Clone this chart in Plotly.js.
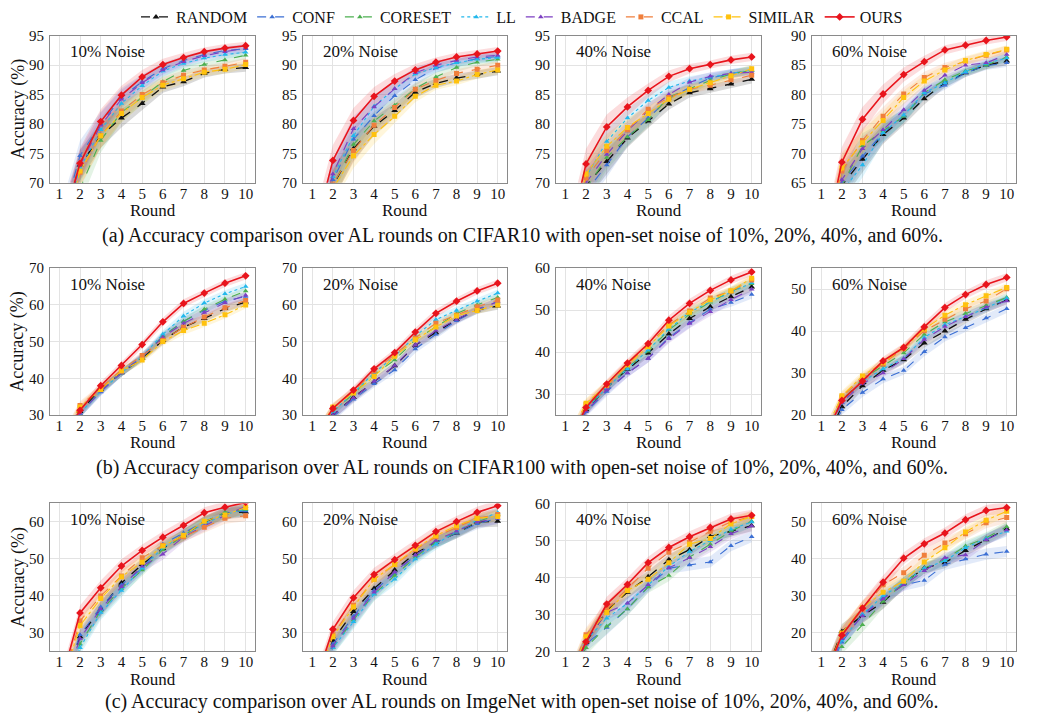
<!DOCTYPE html>
<html><head><meta charset="utf-8">
<script src="https://cdn.plot.ly/plotly-3.0.1.min.js"></script>
<style>html,body{margin:0;padding:0;background:#fff}#chart{width:1044px;height:714px}</style>
</head><body><div id="chart"></div>
<script>
const ROUNDS = [1,2,3,4,5,6,7,8,9,10];
const METHODS = ['RANDOM','CONF','CORESET','LL','BADGE','CCAL','SIMILAR','OURS'];

// each panel: one array per method, in METHODS order
const CIFAR10_N10 = [
  [60, 73.0, 78.0, 81.0, 83.5, 86.3, 87.2, 88.6, 89.3, 89.6],
  [62, 74.6, 80.0, 84.5, 87.2, 89.4, 90.8, 91.8, 92.5, 92.8],
  [57, 69.0, 77.2, 82.0, 84.5, 87.2, 89.1, 90.1, 90.9, 91.7],
  [60, 72.5, 79.0, 83.5, 86.5, 89.0, 90.3, 91.2, 91.8, 92.2],
  [61, 73.0, 79.8, 84.2, 87.0, 89.2, 90.6, 91.6, 92.3, 92.9],
  [59, 71.8, 78.0, 82.2, 85.0, 87.0, 88.3, 89.2, 89.8, 90.5],
  [59, 72.0, 78.0, 81.8, 84.5, 86.6, 87.7, 88.8, 89.3, 90.1],
  [61, 73.3, 80.4, 84.9, 88.0, 90.1, 91.3, 92.3, 92.9, 93.3]
];
const CIFAR10_N20 = [
  [56, 69.5, 75.8, 79.6, 82.3, 85.4, 86.9, 87.8, 88.4, 89.0],
  [57, 70.5, 77.4, 81.4, 84.8, 87.5, 89.5, 90.4, 91.1, 91.5],
  [56, 69.5, 76.5, 80.5, 83.2, 86.0, 88.0, 89.6, 90.5, 91.0],
  [58, 71.0, 78.0, 83.0, 86.0, 88.5, 89.6, 90.4, 91.0, 91.3],
  [58, 71.5, 79.2, 82.9, 86.0, 88.7, 90.0, 90.8, 91.4, 91.7],
  [56, 69.8, 75.5, 79.8, 82.8, 85.9, 87.4, 88.6, 89.3, 90.0],
  [55, 69.0, 74.6, 78.2, 81.3, 84.7, 86.6, 87.3, 88.4, 89.2],
  [60, 73.8, 80.6, 84.7, 87.3, 89.2, 90.5, 91.4, 91.9, 92.4]
];
const CIFAR10_N40 = [
  [54, 69.5, 73.6, 77.6, 80.5, 83.4, 85.3, 86.0, 86.8, 87.6],
  [53, 68.5, 73.0, 77.8, 81.0, 84.3, 86.2, 87.8, 88.6, 89.1],
  [54, 69.0, 74.3, 77.8, 80.7, 84.6, 86.0, 87.4, 88.5, 89.1],
  [56, 71.0, 77.0, 81.0, 84.0, 86.2, 87.3, 88.0, 88.6, 89.2],
  [55, 70.0, 74.8, 78.8, 82.3, 85.0, 87.1, 88.1, 88.6, 88.8],
  [55, 70.8, 75.5, 79.0, 82.5, 84.5, 85.9, 86.6, 87.5, 88.3],
  [56, 71.5, 76.2, 79.4, 81.8, 84.2, 85.9, 87.0, 88.2, 89.4],
  [58, 73.2, 79.5, 82.9, 85.7, 88.1, 89.4, 90.1, 90.9, 91.4]
];
const CIFAR10_N60 = [
  [49, 64.5, 69.0, 73.2, 76.0, 79.3, 82.0, 83.7, 85.0, 85.7],
  [49, 65.0, 69.5, 73.5, 76.3, 80.1, 81.6, 83.7, 84.9, 85.4],
  [49, 64.5, 71.3, 73.8, 76.3, 80.3, 82.5, 84.0, 85.0, 86.4],
  [48, 63.5, 68.0, 73.5, 76.5, 80.3, 82.0, 83.9, 85.3, 86.2],
  [50, 65.5, 70.8, 74.0, 77.4, 80.7, 83.3, 85.0, 85.4, 86.8],
  [52, 67.0, 72.2, 76.3, 80.1, 82.9, 84.6, 85.7, 86.7, 87.6],
  [52, 67.5, 71.8, 75.6, 79.5, 82.3, 84.2, 85.8, 86.8, 87.7],
  [52, 68.5, 75.8, 80.1, 83.4, 85.6, 87.6, 88.4, 89.2, 89.8]
];
const CIFAR100_N10 = [
  [21, 31.0, 37.0, 41.5, 45.5, 50.3, 54.0, 56.3, 59.0, 60.8],
  [21, 30.5, 36.3, 41.5, 46.0, 51.5, 55.5, 58.5, 61.0, 62.3],
  [21, 30.5, 36.8, 41.5, 45.5, 51.5, 55.5, 58.8, 61.5, 63.8],
  [21, 30.5, 36.5, 41.5, 46.0, 52.0, 57.0, 60.5, 63.0, 65.0],
  [21, 30.5, 36.5, 41.5, 45.8, 51.2, 55.0, 57.9, 60.6, 62.6],
  [22, 32.6, 37.3, 42.3, 46.2, 50.4, 53.9, 56.7, 59.2, 61.2],
  [22, 32.2, 37.0, 42.0, 45.0, 50.0, 53.0, 55.0, 57.3, 60.0],
  [22, 31.3, 38.0, 43.5, 49.2, 55.4, 60.4, 63.2, 65.9, 67.9]
];
const CIFAR100_N20 = [
  [21, 30.0, 34.8, 39.0, 43.4, 49.0, 52.4, 56.0, 58.6, 59.7],
  [21, 29.5, 34.3, 38.5, 42.3, 48.0, 52.0, 55.7, 58.5, 61.0],
  [22, 31.0, 35.8, 41.0, 45.0, 50.5, 54.0, 57.6, 60.0, 62.0],
  [22, 31.0, 36.0, 41.5, 46.0, 51.5, 56.0, 58.5, 61.0, 63.2],
  [21, 30.0, 34.7, 39.2, 43.5, 49.1, 53.0, 56.0, 58.9, 60.8],
  [23, 32.0, 36.5, 42.0, 46.5, 51.0, 55.0, 57.2, 59.5, 61.3],
  [23, 32.2, 36.0, 40.5, 46.0, 50.5, 54.0, 57.0, 58.5, 60.0],
  [23, 31.8, 36.8, 42.6, 47.0, 52.6, 57.7, 61.0, 63.8, 65.9]
];
const CIFAR100_N40 = [
  [17, 26.3, 31.5, 35.9, 39.8, 44.3, 48.0, 50.8, 53.2, 55.5],
  [16, 25.8, 30.6, 35.0, 38.5, 43.5, 47.0, 50.2, 51.8, 53.7],
  [17, 26.5, 31.5, 36.3, 40.2, 45.3, 49.0, 51.9, 54.5, 56.3],
  [17, 26.5, 31.5, 36.0, 40.5, 45.5, 49.5, 52.0, 54.2, 56.5],
  [16, 26.0, 31.0, 35.0, 38.5, 43.2, 46.8, 49.6, 52.5, 55.0],
  [18, 27.5, 32.0, 37.0, 41.8, 46.5, 49.8, 52.9, 54.5, 57.2],
  [18, 27.8, 32.2, 37.0, 41.3, 46.2, 49.5, 52.4, 54.6, 57.6],
  [17, 26.8, 32.4, 37.4, 42.0, 47.6, 51.6, 54.7, 57.2, 59.1]
];
const CIFAR100_N60 = [
  [12, 22.0, 27.0, 30.7, 33.2, 37.2, 40.0, 42.8, 45.3, 47.4],
  [11, 21.3, 25.4, 28.6, 30.6, 35.1, 38.6, 40.8, 43.1, 45.3],
  [13, 23.5, 28.5, 31.8, 34.8, 39.2, 42.2, 44.2, 46.1, 48.0],
  [13, 23.0, 28.0, 31.0, 33.5, 38.5, 41.5, 43.5, 45.5, 47.8],
  [13, 23.0, 27.5, 30.0, 33.4, 38.0, 41.1, 43.4, 45.7, 47.2],
  [14, 24.3, 28.8, 32.2, 35.8, 40.1, 42.8, 45.3, 47.2, 50.1],
  [14, 24.6, 29.3, 32.5, 36.0, 40.5, 43.8, 46.3, 48.4, 50.4],
  [13, 23.5, 28.1, 32.9, 36.1, 41.0, 45.6, 48.7, 51.1, 52.8]
];
const IMAGENET_N10 = [
  [13, 29.0, 36.5, 43.5, 48.5, 52.8, 56.5, 60.0, 62.3, 62.7],
  [13, 29.5, 37.0, 43.0, 47.5, 54.0, 57.0, 60.0, 62.5, 63.0],
  [12, 27.0, 36.0, 42.0, 47.0, 52.5, 56.3, 60.0, 62.6, 63.3],
  [11, 26.0, 35.5, 41.5, 47.5, 53.0, 56.5, 59.5, 62.0, 63.5],
  [12, 28.5, 36.5, 42.5, 48.0, 51.3, 56.0, 59.0, 61.8, 64.2],
  [14, 33.2, 40.0, 45.4, 50.3, 53.7, 56.0, 58.6, 61.0, 61.7],
  [14, 32.0, 39.3, 45.2, 49.1, 53.5, 56.4, 60.2, 61.9, 63.9],
  [15, 35.4, 42.2, 48.1, 52.3, 55.9, 59.1, 62.5, 64.0, 65.3]
];
const IMAGENET_N20 = [
  [13, 28.0, 35.8, 42.0, 47.0, 51.5, 54.5, 57.0, 60.0, 60.2],
  [13, 27.0, 34.5, 41.5, 46.0, 51.0, 54.5, 57.0, 59.5, 61.0],
  [12, 26.0, 33.5, 40.5, 45.5, 50.5, 54.5, 57.3, 60.0, 62.0],
  [12, 26.0, 33.0, 40.5, 44.5, 50.0, 54.0, 57.5, 60.5, 62.5],
  [12, 26.5, 34.0, 41.0, 46.5, 51.0, 55.0, 57.5, 60.0, 61.0],
  [14, 29.5, 37.5, 44.5, 48.5, 52.5, 56.0, 58.5, 61.0, 62.0],
  [14, 29.0, 37.0, 44.5, 48.5, 52.8, 56.3, 59.0, 61.0, 61.5],
  [14, 31.0, 39.5, 45.8, 49.8, 53.7, 57.4, 60.1, 62.6, 64.4]
];
const IMAGENET_N40 = [
  [10, 22.5, 31.0, 36.0, 40.2, 44.8, 47.5, 51.1, 52.5, 54.0],
  [10, 22.0, 26.5, 31.5, 37.5, 42.5, 43.4, 44.2, 48.6, 51.0],
  [10, 21.0, 26.8, 31.5, 37.4, 40.5, 45.5, 49.0, 52.5, 55.2],
  [10, 23.0, 29.0, 33.0, 38.0, 43.0, 47.0, 50.0, 53.0, 55.0],
  [10, 23.0, 30.5, 33.0, 38.0, 42.6, 45.3, 48.3, 51.8, 53.9],
  [10, 24.5, 31.5, 37.0, 42.5, 46.8, 49.5, 52.5, 55.0, 56.5],
  [10, 24.0, 30.5, 36.5, 39.5, 44.0, 49.0, 50.5, 54.5, 56.5],
  [10, 22.6, 32.8, 38.1, 44.0, 48.1, 51.0, 53.5, 55.8, 56.8]
];
const IMAGENET_N60 = [
  [6, 20.4, 24.7, 28.3, 33.5, 37.5, 39.0, 42.3, 45.2, 48.2],
  [5, 17.5, 25.0, 29.5, 33.0, 34.2, 38.5, 40.0, 41.3, 42.0],
  [4, 16.3, 22.2, 28.5, 33.5, 37.5, 39.8, 43.5, 45.7, 48.7],
  [5, 18.0, 25.0, 30.0, 33.5, 37.5, 39.5, 43.0, 45.5, 47.5],
  [5, 18.4, 24.6, 29.2, 33.0, 36.8, 40.3, 41.1, 45.2, 47.8],
  [6, 19.5, 26.5, 33.0, 36.3, 41.0, 44.3, 46.8, 49.8, 51.2],
  [6, 20.0, 26.8, 31.0, 34.0, 39.2, 43.0, 47.3, 50.5, 52.9],
  [6, 19.4, 26.7, 33.7, 40.2, 44.1, 47.0, 50.6, 53.1, 53.9]
];

// half-width of the shaded spread, per round
const BAND_CIFAR10  = [3.0, 2.6, 2.1, 1.6, 1.2, 1.0, 0.8, 0.7, 0.7, 0.7];
const BAND_CIFAR100 = [1.5, 1.2, 1.1, 1.0, 1.0, 1.1, 1.1, 1.0, 1.0, 1.0];
const BAND_IMAGENET = [2.5, 2.0, 2.0, 1.8, 1.6, 1.5, 1.5, 1.5, 1.5, 1.5];

const NOISE_LABELS = ['10% Noise','20% Noise','40% Noise','60% Noise'];
const Y_RANGES = [
  [[70,95],[70,95],[70,95],[65,90]],
  [[30,70],[30,70],[25,60],[20,55]],
  [[25,65],[25,65],[20,60],[15,55]]
];
const Y_DTICK = [5, 10, 10];
const X_TITLE = 'Round';
const Y_TITLE = 'Accuracy (%)';
const CAPTIONS = [
  '(a) Accuracy comparison over AL rounds on CIFAR10 with open-set noise of 10%, 20%, 40%, and 60%.',
  '(b) Accuracy comparison over AL rounds on CIFAR100 with open-set noise of 10%, 20%, 40%, and 60%.',
  '(c) Accuracy comparison over AL rounds on ImgeNet with open-set noise of 10%, 20%, 40%, and 60%.'
];

const PANELS = [
  [CIFAR10_N10, CIFAR10_N20, CIFAR10_N40, CIFAR10_N60],
  [CIFAR100_N10, CIFAR100_N20, CIFAR100_N40, CIFAR100_N60],
  [IMAGENET_N10, IMAGENET_N20, IMAGENET_N40, IMAGENET_N60]
];
const BANDS = [BAND_CIFAR10, BAND_CIFAR100, BAND_IMAGENET];

// ---- styles / layout ----
const STYLE = {
  RANDOM:  {color:'#111111', rgb:'0,0,0',      dash:'dash',    symbol:'triangle-up', size:6, width:1.3},
  CONF:    {color:'#3b6fd4', rgb:'59,111,212', dash:'dash',    symbol:'triangle-up', size:5, width:1.1},
  CORESET: {color:'#4caf50', rgb:'76,175,80',  dash:'dash',    symbol:'triangle-up', size:5, width:1.1},
  LL:      {color:'#22b8ec', rgb:'34,184,236', dash:'dot',     symbol:'triangle-up', size:5, width:1.1},
  BADGE:   {color:'#7d3fc2', rgb:'125,63,194', dash:'dash',    symbol:'triangle-up', size:5, width:1.1},
  CCAL:    {color:'#f07f3c', rgb:'240,127,60', dash:'dash',    symbol:'square',      size:5, width:1.1},
  SIMILAR: {color:'#ffc20e', rgb:'255,194,14', dash:'dashdot', symbol:'square',      size:5, width:1.1},
  OURS:    {color:'#e8141c', rgb:'232,20,28',  dash:'solid',   symbol:'diamond',     size:6, width:1.6}
};
const W = 1044, H = 714;
const COL_PX = [[50,255],[303,507],[556,761],[812,1016]];
const ROW_PX = [[31,179],[265,413],[502,651]];
const CAPTION_Y = [232, 466, 701];
const SERIF = 'Liberation Serif, Times New Roman, Times, serif';

const traces = [];
const layout = {
  width: W, height: H,
  margin: {l:0, r:0, t:0, b:0},
  paper_bgcolor: '#fff', plot_bgcolor: '#fff',
  hovermode: false,
  font: {family: SERIF, color: '#111', size: 15},
  showlegend: true,
  legend: {orientation:'h', x:0.5, xanchor:'center', y: 1 - 12/H, yanchor:'middle',
           font:{family:SERIF, size:16, color:'#111'}, bgcolor:'rgba(0,0,0,0)',
           itemwidth:30, tracegroupgap:0},
  annotations: []
};

let idx = 0;
for (let r = 0; r < 3; r++) {
  for (let c = 0; c < 4; c++) {
    idx++;
    const xa = idx === 1 ? 'x' : 'x' + idx;
    const ya = idx === 1 ? 'y' : 'y' + idx;
    const xk = idx === 1 ? 'xaxis' : 'xaxis' + idx;
    const yk = idx === 1 ? 'yaxis' : 'yaxis' + idx;
    const data = PANELS[r][c];
    const band = BANDS[r];
    METHODS.forEach((m, k) => {
      const s = STYLE[m];
      const up = data[k].map((v, i) => v + band[i]);
      const lo = data[k].map((v, i) => v - band[i]);
      traces.push({
        x: ROUNDS.concat(ROUNDS.slice().reverse()),
        y: up.concat(lo.slice().reverse()),
        xaxis: xa, yaxis: ya, type: 'scatter', mode: 'lines',
        fill: 'toself', fillcolor: 'rgba(' + s.rgb + ',0.15)',
        line: {width: 0, color: 'rgba(0,0,0,0)'},
        showlegend: false, hoverinfo: 'skip'
      });
    });
    METHODS.forEach((m, k) => {
      const s = STYLE[m];
      traces.push({
        x: ROUNDS, y: data[k], xaxis: xa, yaxis: ya,
        type: 'scatter', mode: 'lines+markers', name: m,
        legendgroup: m, showlegend: idx === 1,
        line: {color: s.color, width: s.width, dash: s.dash},
        marker: {color: s.color, symbol: s.symbol, size: s.size}
      });
    });
    const axCommon = {
      showline: true, mirror: true, linecolor: '#8a8a8a', linewidth: 1,
      showgrid: true, gridcolor: '#e3e3e3', gridwidth: 1, zeroline: false,
      ticks: '', tickfont: {family: SERIF, size: 15, color: '#111'}
    };
    layout[xk] = Object.assign({}, axCommon, {
      domain: [COL_PX[c][0]/W, COL_PX[c][1]/W], anchor: ya,
      range: [0.55, 10.45], tickmode: 'array', tickvals: ROUNDS, ticktext: ROUNDS.map(String),
      ticklabelstandoff: -3
    });
    layout[yk] = Object.assign({}, axCommon, {
      domain: [1 - ROW_PX[r][1]/H, 1 - ROW_PX[r][0]/H], anchor: xa,
      range: Y_RANGES[r][c], dtick: Y_DTICK[r], tick0: 0, ticklabelstandoff: 2
    });
    layout.annotations.push({
      xref: xa + ' domain', yref: ya + ' domain', x: 18/205, y: 1 - 16/148,
      xanchor: 'left', yanchor: 'middle', showarrow: false,
      text: NOISE_LABELS[c], font: {family: SERIF, size: 17, color: '#111'}
    });
    layout.annotations.push({
      xref: xa + ' domain', yref: 'paper', x: 0.5, y: 1 - (ROW_PX[r][1] + 28)/H,
      xanchor: 'center', yanchor: 'middle', showarrow: false,
      text: X_TITLE, font: {family: SERIF, size: 17, color: '#111'}
    });
    if (c === 0) {
      layout.annotations.push({
        xref: 'paper', yref: ya + ' domain', x: 18/W, y: 0.5,
        xanchor: 'center', yanchor: 'middle', showarrow: false, textangle: -90,
        text: Y_TITLE, font: {family: SERIF, size: 18, color: '#111'}
      });
    }
  }
  layout.annotations.push({
    xref: 'paper', yref: 'paper', x: 0.5, y: 1 - CAPTION_Y[r]/H,
    xanchor: 'center', yanchor: 'middle', showarrow: false,
    text: CAPTIONS[r], font: {family: SERIF, size: 20, color: '#111'}
  });
}

Plotly.newPlot('chart', traces, layout, {displayModeBar: false, staticPlot: true});
</script></body></html>
